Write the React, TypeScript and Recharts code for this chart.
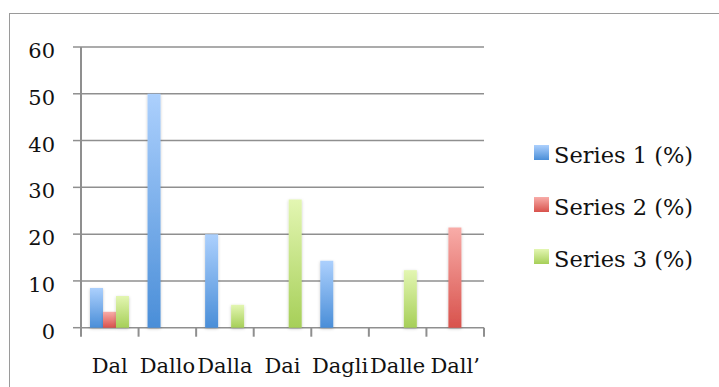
import React from 'react';
import { BarChart, Bar, XAxis, YAxis, CartesianGrid, Legend } from 'recharts';

// Category labels along the x axis
const categories = ['Dal', 'Dallo', 'Dalla', 'Dai', 'Dagli', 'Dalle', 'Dall\u2019'];

// Percentages per series (null = no bar)
const series1 = [8.5, 50, 20, null, 14.3, null, null];
const series2 = [3.4, null, null, null, null, null, 21.4];
const series3 = [6.8, null, 4.9, 27.4, null, 12.3, null];

const seriesNames = ['Series 1 (%)', 'Series 2 (%)', 'Series 3 (%)'];
const yTicks = [0, 10, 20, 30, 40, 50, 60];

const data = categories.map((name, i) => ({
  name,
  s1: series1[i],
  s2: series2[i],
  s3: series3[i],
}));

const FONT = '"DejaVu Serif", "Liberation Serif", serif';
const GRID = '#8f8f8f';

// Chart geometry
const CHART_W = 719;
const CHART_H = 387;
const MARGIN = { top: 47, right: 235, bottom: 58.3, left: 0 };
const Y_AXIS_W = 81;
const X_LABEL_GAP = 45;
const EDGE_TICK = 9;
const PLOT_W = CHART_W - MARGIN.right - MARGIN.left - Y_AXIS_W;
const BAND = PLOT_W / categories.length;

const gradients = [
  { id: 'gBlue', top: '#acd0fd', bottom: '#4a8ed8' },
  { id: 'gRed', top: '#f8aca8', bottom: '#d8524c' },
  { id: 'gGreen', top: '#e3f6b2', bottom: '#a6cf58' },
];

const GradientDefs = ({ prefix }: { prefix: string }) => (
  <defs>
    {gradients.map((g) => (
      <linearGradient key={g.id} id={prefix + g.id} x1="0" y1="0" x2="0" y2="1">
        <stop offset="0%" stopColor={g.top} />
        <stop offset="100%" stopColor={g.bottom} />
      </linearGradient>
    ))}
    <filter id={prefix + 'shadow'} x="-40%" y="-10%" width="180%" height="130%">
      <feDropShadow dx="0" dy="1" stdDeviation="1.6" floodColor="#000" floodOpacity="0.22" />
    </filter>
  </defs>
);

const YTick = (props: any) => {
  const { x, y, payload } = props;
  return (
    <text x={x} y={y} dy={11} textAnchor="end" fontFamily={FONT} fontSize={21} fill="#111">
      {payload.value}
    </text>
  );
};

// Category label plus tick marks on the category boundaries
const XTick = (props: any) => {
  const { x, y, payload, index } = props;
  const axisY = y - X_LABEL_GAP;
  const left = x - BAND / 2;
  const right = x + BAND / 2;
  const isLast = index === categories.length - 1;
  return (
    <g>
      <line x1={left} x2={left} y1={axisY} y2={axisY + EDGE_TICK} stroke={GRID} strokeWidth={2} />
      {isLast && (
        <line x1={right} x2={right} y1={axisY} y2={axisY + EDGE_TICK} stroke={GRID} strokeWidth={2} />
      )}
      <text x={x} y={y} textAnchor="middle" fontFamily={FONT} fontSize={21} fill="#111">
        {payload.value}
      </text>
    </g>
  );
};

const LegendContent = () => (
  <svg width={190} height={150} style={{ display: 'block', overflow: 'visible' }}>
    <GradientDefs prefix="lg-" />
    {seriesNames.map((name, i) => (
      <g key={name}>
        <rect x={8} y={15 + i * 52} width={15} height={15} fill={`url(#lg-${gradients[i].id})`} />
        <text x={28} y={33 + i * 52} fontFamily={FONT} fontSize={22.5} fill="#111">
          {name}
        </text>
      </g>
    ))}
  </svg>
);

export default function App() {
  return (
    <div style={{ position: 'absolute', left: 0, top: 0, width: CHART_W, height: CHART_H, background: '#fff', overflow: 'hidden' }}>
      <div
        style={{
          position: 'absolute',
          left: 9,
          top: 13,
          width: 730,
          height: 400,
          borderLeft: '1.5px solid #9a9a9a',
          borderTop: '1.5px solid #9a9a9a',
        }}
      />
      <BarChart
        width={CHART_W}
        height={CHART_H}
        data={data}
        margin={MARGIN}
        barCategoryGap="15.6%"
        barGap={0}
        style={{ position: 'absolute', left: 0, top: 0 }}
      >
        <GradientDefs prefix="ch-" />
        <CartesianGrid vertical={false} stroke={GRID} strokeWidth={1.5} />
        <XAxis
          dataKey="name"
          height={1}
          tickSize={0}
          tickMargin={X_LABEL_GAP}
          tickLine={false}
          axisLine={false}
          interval={0}
          tick={XTick}
        />
        <YAxis
          width={Y_AXIS_W}
          domain={[0, 60]}
          ticks={yTicks}
          tickSize={8}
          tickMargin={18}
          tick={YTick}
          tickLine={{ stroke: GRID, strokeWidth: 1.5 }}
          axisLine={{ stroke: GRID, strokeWidth: 2 }}
        />
        <Legend
          layout="horizontal"
          align="center"
          verticalAlign="middle"
          content={LegendContent}
          wrapperStyle={{ left: 526, top: 130, width: 190 }}
        />
        <Bar dataKey="s1" name={seriesNames[0]} fill="url(#ch-gBlue)" filter="url(#ch-shadow)" isAnimationActive={false} />
        <Bar dataKey="s2" name={seriesNames[1]} fill="url(#ch-gRed)" filter="url(#ch-shadow)" isAnimationActive={false} />
        <Bar dataKey="s3" name={seriesNames[2]} fill="url(#ch-gGreen)" filter="url(#ch-shadow)" isAnimationActive={false} />
      </BarChart>
    </div>
  );
}
